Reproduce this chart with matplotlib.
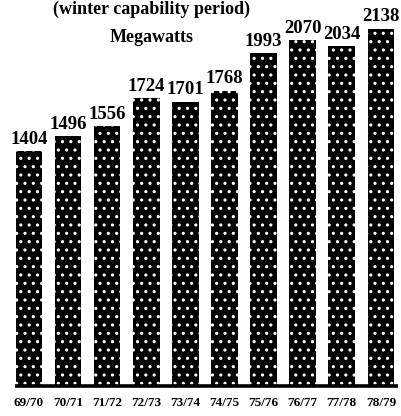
import matplotlib
matplotlib.use("Agg")
import matplotlib.pyplot as plt

# Winter capability, megawatts, by season
seasons = ["69/70", "70/71", "71/72", "72/73", "73/74", "74/75",
           "75/76", "76/77", "77/78", "78/79"]
megawatts = [1404, 1496, 1556, 1724, 1701, 1768, 1993, 2070, 2034, 2138]

plt.rcParams["hatch.linewidth"] = 1.1
plt.rcParams["hatch.color"] = "white"

W, H = 402, 416
fig = plt.figure(figsize=(W / 100, H / 100), dpi=100)
ax = fig.add_axes([0, 30 / H, 1, 1 - 30 / H])

x = list(range(len(seasons)))
ax.bar(x, megawatts, width=0.68, color="black", edgecolor="white",
       linewidth=0, hatch="..")

serif = "Liberation Serif"
narrow = ["Liberation Sans Narrow", "Liberation Serif"]
for xi, v in zip(x, megawatts):
    ax.annotate(f"{v}", (xi, v), xytext=(0, 2.5), textcoords="offset points",
                ha="center", va="bottom", fontsize=13.5, fontweight="bold",
                family=narrow)

# baseline rule
ax.hlines(0, -0.36, 9.45, color="black", linewidth=2.6, clip_on=False)

ax.set_xlim(-0.742, 9.54)
ax.set_ylim(0, 2311)
ax.set_xticks(x)
ax.set_xticklabels(seasons, fontsize=9.5, fontweight="bold", family=serif)
ax.tick_params(axis="x", length=0, pad=8)
ax.set_yticks([])
for s in ax.spines.values():
    s.set_visible(False)

fig.text(152 / W, 1 - 9 / H, "(winter capability period)", ha="center",
         va="center", fontsize=13, fontweight="bold", family=serif)
fig.text(152 / W, 1 - 38 / H, "Megawatts", ha="center", va="center",
         fontsize=13, fontweight="bold", family=serif)

fig.savefig("out.png", dpi=100, facecolor="white")
